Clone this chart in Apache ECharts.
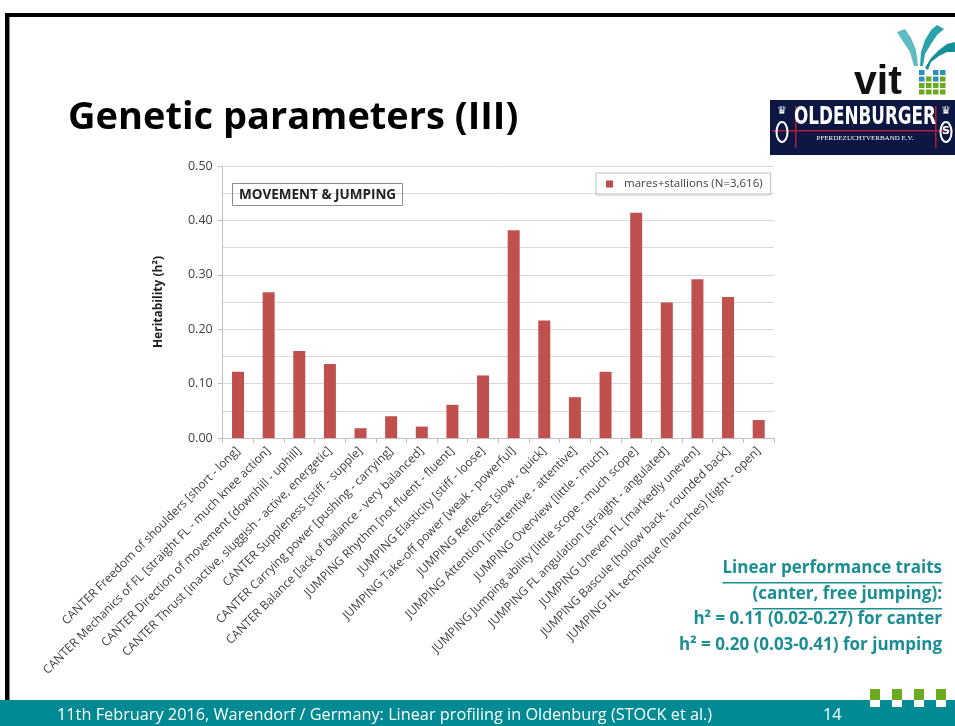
<!DOCTYPE html>
<html>
<head>
<meta charset="utf-8">
<style>
  html, body { margin: 0; padding: 0; background: #ffffff; }
  #chart { width: 955px; height: 726px; }
</style>
<script src="https://cdn.jsdelivr.net/npm/echarts@6/dist/echarts.min.js"></script>
</head>
<body>
<div id="chart"></div>
<script>
// Traits (linear profiling, canter and free jumping)
const traits = [
  'CANTER Freedom of shoulders [short - long]',
  'CANTER Mechanics of FL [straight FL - much knee action]',
  'CANTER Direction of movement [downhill - uphill]',
  'CANTER Thrust [inactive, sluggish - active, energetic]',
  'CANTER Suppleness [stiff - supple]',
  'CANTER Carrying power [pushing - carrying]',
  'CANTER Balance [lack of balance - very balanced]',
  'JUMPING Rhythm [not fluent - fluent]',
  'JUMPING Elasticity [stiff - loose]',
  'JUMPING Take-off power [weak - powerful]',
  'JUMPING Reflexes [slow - quick]',
  'JUMPING Attention [inattentive - attentive]',
  'JUMPING Overview [little - much]',
  'JUMPING Jumping ability [little scope - much scope]',
  'JUMPING FL angulation [straight - angulated]',
  'JUMPING Uneven FL [markedly uneven]',
  'JUMPING Bascule [hollow back - rounded back]',
  'JUMPING HL technique (haunches) [tight - open]'
];

// Heritability estimates, mares+stallions
const heritability = [
  0.122, 0.268, 0.160, 0.136, 0.018, 0.040, 0.021,
  0.061, 0.115, 0.382, 0.216, 0.075, 0.122, 0.414,
  0.249, 0.292, 0.259, 0.033
];

const seriesName = 'mares+stallions (N=3,616)';
const boxLabel = 'MOVEMENT & JUMPING';
const yAxisName = 'Heritability (h\u00b2)';
const slideTitle = 'Genetic parameters (III)';
const summaryLines = [
  'Linear performance traits',
  '(canter, free jumping):',
  'h\u00b2 = 0.11 (0.02-0.27) for canter',
  'h\u00b2 = 0.20 (0.03-0.41) for jumping'
];
const footerText = '11th February 2016, Warendorf / Germany: Linear profiling in Oldenburg (STOCK et al.)';
const pageNo = '14';

const TEAL = '#008a93';
const SUMMARY_COLOR = '#1a8e93';
const FONT = '"Open Sans", "Liberation Sans", sans-serif';

// width helper for underlines
const measureCtx = document.createElement('canvas').getContext('2d');
function textWidth(str, font) {
  measureCtx.font = font;
  return measureCtx.measureText(str).width;
}

const summaryFont = 'bold 17px ' + FONT;
const summaryRight = 942;
const summaryTops = [560, 586, 611, 637];

const graphics = [];

// slide frame
graphics.push({ type: 'rect', shape: { x: 5, y: 13, width: 960, height: 4 }, style: { fill: '#000' }, z: 10 });
graphics.push({ type: 'rect', shape: { x: 5, y: 13, width: 4, height: 690 }, style: { fill: '#000' }, z: 10 });
graphics.push({ type: 'rect', shape: { x: 9, y: 17, width: 1, height: 683 }, style: { fill: '#8a8a8a' }, z: 10 });

// footer band
graphics.push({ type: 'rect', shape: { x: 0, y: 700, width: 955, height: 26 }, style: { fill: TEAL }, z: 10 });
graphics.push({ type: 'text', x: 57, y: 707, style: { text: footerText, fill: '#ffffff', font: '16.3px ' + FONT }, z: 11 });
graphics.push({ type: 'text', x: 823, y: 707, style: { text: pageNo, fill: '#ffffff', font: '16.3px ' + FONT }, z: 11 });
[870, 892, 914, 936].forEach(function (x) {
  graphics.push({ type: 'rect', shape: { x: x, y: 689, width: 10, height: 11 }, style: { fill: '#6aab1f' }, z: 12 });
  graphics.push({ type: 'rect', shape: { x: x, y: 700, width: 10, height: 7 }, style: { fill: '#ffffff' }, z: 12 });
});

// slide title
graphics.push({ type: 'text', x: 68, y: 99, style: { text: slideTitle, fill: '#000', font: 'bold 38px ' + FONT }, z: 10 });

// summary block on the right
summaryLines.forEach(function (line, i) {
  graphics.push({
    type: 'text', x: summaryRight, y: summaryTops[i],
    style: { text: line, fill: SUMMARY_COLOR, font: summaryFont, align: 'right' }, z: 10
  });
  if (i < 2) {
    const w = textWidth(line, summaryFont);
    graphics.push({
      type: 'rect', shape: { x: summaryRight - w, y: summaryTops[i] + 22, width: w, height: 1.5 },
      style: { fill: SUMMARY_COLOR }, z: 10
    });
  }
});

// vit logo: jumping horses, wordmark and square block
graphics.push({ type: 'polygon', shape: { points: [[914, 66], [910, 52], [902, 40], [897, 32], [905, 29], [911, 38], [916, 50], [918, 66]] }, style: { fill: '#5cbcc1' }, z: 10 });
graphics.push({ type: 'polygon', shape: { points: [[920, 66], [921, 52], [925, 40], [931, 30], [937, 25], [944, 29], [937, 35], [931, 44], [925, 54], [923, 66]] }, style: { fill: '#2aa3ab' }, z: 10 });
graphics.push({ type: 'polygon', shape: { points: [[925, 68], [931, 58], [939, 50], [947, 44], [955, 42], [955, 52], [947, 52], [939, 56], [931, 62], [928, 70]] }, style: { fill: '#158f99' }, z: 10 });
graphics.push({ type: 'text', x: 854, y: 62, style: { text: 'vit', fill: '#111', font: 'bold 41px "Liberation Sans", sans-serif' }, z: 10 });
const sq = [
  ['#2b8fc0', '#ffffff', '#2b8fc0', '#2b8fc0'],
  ['#2b8fc0', '#6aab1f', '#2b8fc0', '#6aab1f'],
  ['#6aab1f', '#6aab1f', '#6aab1f', '#6aab1f'],
  ['#6aab1f', '#6aab1f', '#6aab1f', '#6aab1f']
];
sq.forEach(function (row, r) {
  row.forEach(function (c, k) {
    graphics.push({ type: 'rect', shape: { x: 919 + k * 7, y: 70 + r * 6.5, width: 5.5, height: 5 }, style: { fill: c }, z: 10 });
  });
});

// Oldenburger badge
graphics.push({ type: 'rect', shape: { x: 770, y: 100, width: 185, height: 55 }, style: { fill: '#0c1642' }, z: 10 });
graphics.push({ type: 'rect', shape: { x: 772, y: 130, width: 181, height: 1.5 }, style: { fill: '#b01e35' }, z: 11 });
graphics.push({ type: 'rect', shape: { x: 795, y: 106, width: 1.5, height: 42 }, style: { fill: '#b01e35' }, z: 11 });
graphics.push({ type: 'rect', shape: { x: 935, y: 106, width: 1.5, height: 42 }, style: { fill: '#b01e35' }, z: 11 });
graphics.push({
  type: 'text', x: 865, y: 106, scaleX: 0.7,
  style: { text: 'OLDENBURGER', fill: '#ffffff', font: 'bold 24px "DejaVu Sans", sans-serif', align: 'center' }, z: 12
});
graphics.push({ type: 'text', x: 865, y: 135, style: { text: 'PFERDEZUCHTVERBAND E.V.', fill: '#ffffff', font: '7px "Liberation Serif", serif', align: 'center' }, z: 12 });
// crowned shields on both sides of the badge
[[782, 'O'], [946, 'S']].forEach(function (p) {
  graphics.push({ type: 'text', x: p[0], y: 106, style: { text: '\u265b', fill: '#ffffff', font: '11px "DejaVu Sans", sans-serif', align: 'center' }, z: 12 });
  graphics.push({
    type: 'ellipse', shape: { cx: p[0], cy: 132, rx: 5.5, ry: 10 },
    style: { fill: 'none', stroke: '#ffffff', lineWidth: 2 }, z: 12
  });
  graphics.push({ type: 'text', x: p[0], y: 126, style: { text: p[1] === 'S' ? 'S' : '', fill: '#ffffff', font: 'bold 11px "DejaVu Sans", sans-serif', align: 'center' }, z: 12 });
});

const chart = echarts.init(document.getElementById('chart'), null, { renderer: 'canvas' });
chart.setOption({
  backgroundColor: '#ffffff',
  animation: false,
  textStyle: { fontFamily: FONT },
  title: {
    text: boxLabel,
    left: 232, top: 183,
    padding: [5, 7, 4, 7],
    borderColor: '#8c8c8c',
    borderWidth: 1,
    textStyle: { fontSize: 13.5, fontWeight: 'bold', color: '#222', fontFamily: FONT }
  },
  legend: {
    left: 596, top: 173,
    padding: [5, 8, 5, 10],
    borderColor: '#bfbfbf',
    borderWidth: 1,
    itemWidth: 7, itemHeight: 7,
    itemGap: 10,
    icon: 'rect',
    textStyle: { fontSize: 11.5, color: '#404040', fontFamily: FONT, padding: [0, 0, 0, 6] },
    data: [seriesName]
  },
  grid: { left: 222.7, right: 181, top: 166, bottom: 288, containLabel: false },
  xAxis: {
    type: 'category',
    data: traits,
    axisLine: { lineStyle: { color: '#bfbfbf' } },
    axisTick: { show: true, lineStyle: { color: '#bfbfbf' }, length: 5 },
    axisLabel: {
      interval: 0, rotate: 45, fontSize: 12, color: '#404040', margin: 11, fontFamily: FONT
    }
  },
  yAxis: {
    type: 'value',
    min: 0, max: 0.5, interval: 0.1,
    name: yAxisName,
    nameLocation: 'middle',
    nameGap: 58,
    nameRotate: 90,
    nameTextStyle: { fontSize: 12, fontWeight: 'bold', color: '#222', fontFamily: FONT },
    axisLine: { show: true, lineStyle: { color: '#bfbfbf' } },
    axisTick: { show: true, length: 5, lineStyle: { color: '#bfbfbf' } },
    axisLabel: {
      fontSize: 12.5, color: '#404040', margin: 10, fontFamily: FONT,
      formatter: function (v) { return v.toFixed(2); }
    },
    splitLine: { lineStyle: { color: '#d9d9d9' } },
    minorTick: { show: true, splitNumber: 2, length: 0 },
    minorSplitLine: { show: true, lineStyle: { color: '#d9d9d9' } }
  },
  series: [{
    name: seriesName,
    type: 'bar',
    data: heritability,
    barWidth: 12,
    itemStyle: { color: '#c0504d' }
  }],
  graphic: graphics
});
</script>
</body>
</html>
